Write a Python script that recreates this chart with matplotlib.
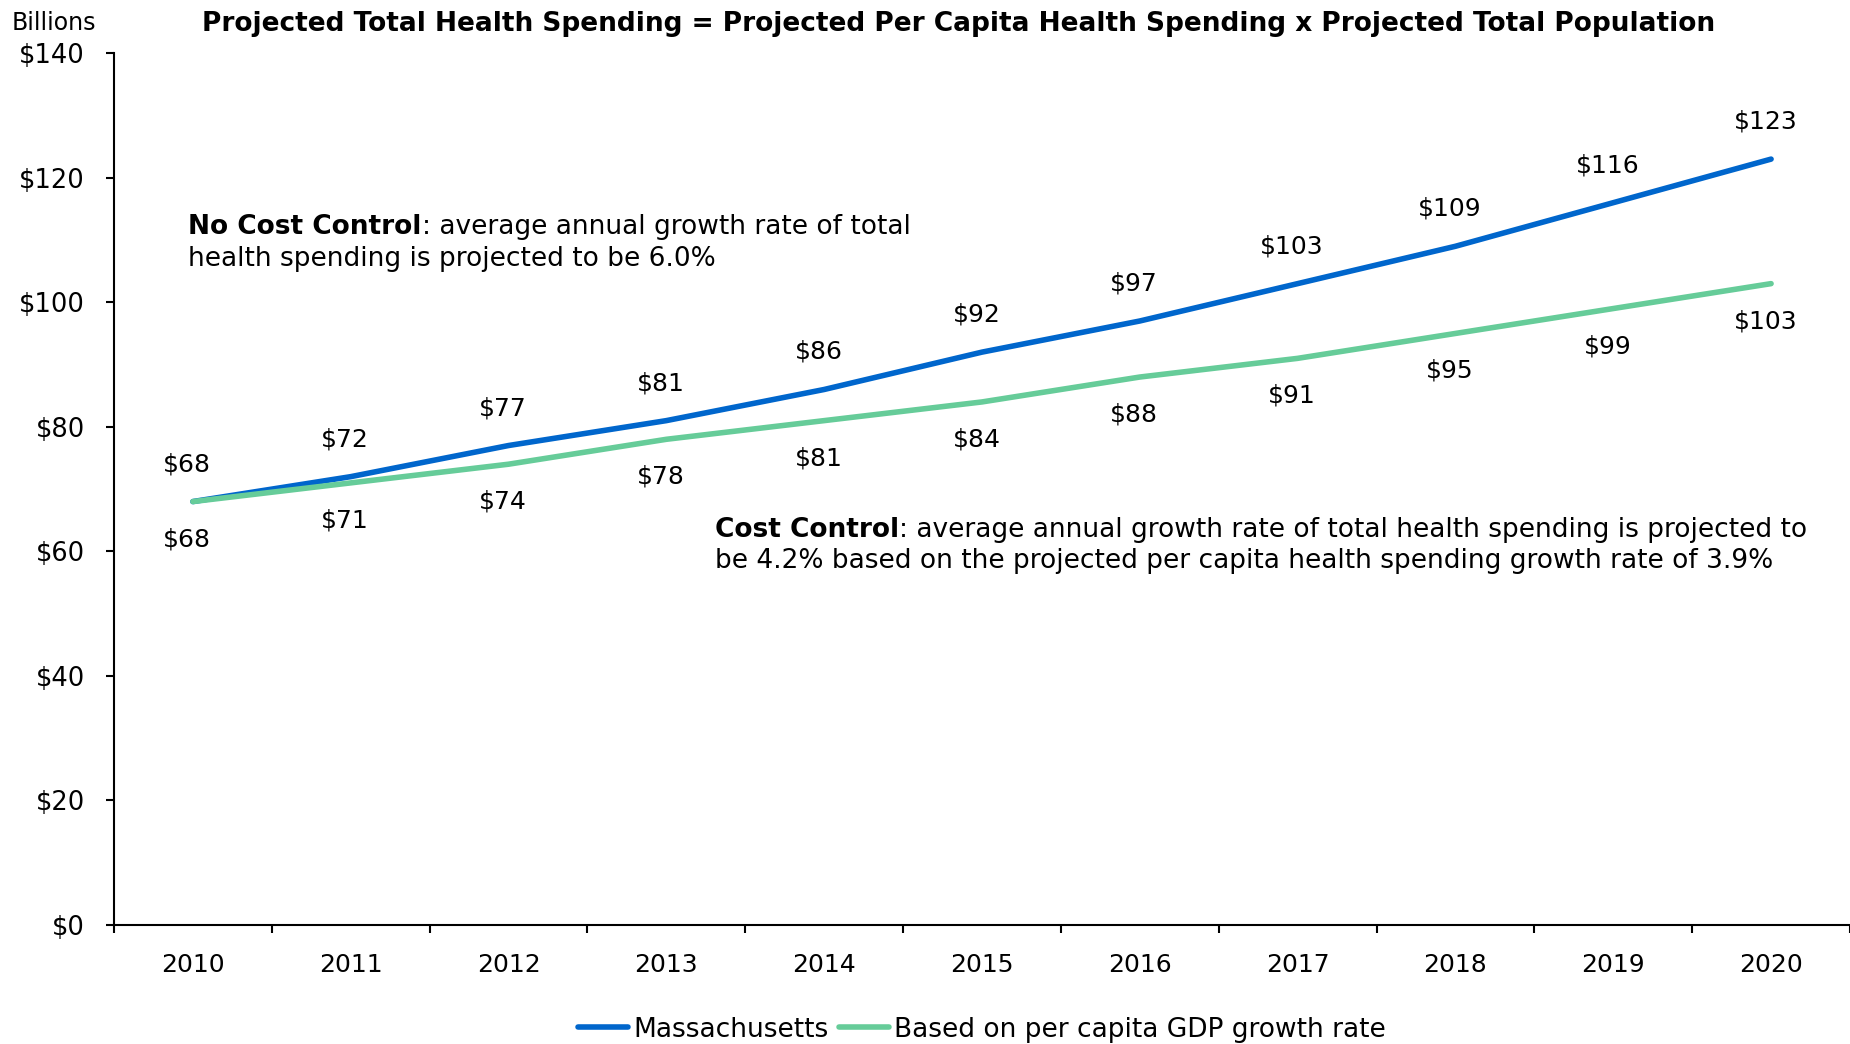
import numpy as np
import matplotlib
matplotlib.use("Agg")
import matplotlib.pyplot as plt

years = ["2010", "2011", "2012", "2013", "2014", "2015", "2016", "2017", "2018", "2019", "2020"]
massachusetts = [68, 72, 77, 81, 86, 92, 97, 103, 109, 116, 123]
gdp_based = [68, 71, 74, 78, 81, 84, 88, 91, 95, 99, 103]

blue = "#0066CC"
green = "#66CC99"

plt.rcParams["font.family"] = ["DejaVu Sans"]

fig = plt.figure(figsize=(18.5, 10.44), dpi=100)
ax = fig.add_axes([0.0616, 0.114, 0.9384, 0.835])

x = np.arange(len(years))
ax.plot(x, massachusetts, color=blue, lw=4, solid_capstyle="round", label="Massachusetts")
ax.plot(x, gdp_based, color=green, lw=4, solid_capstyle="round", label="Based on per capita GDP growth rate")

for xi, v in zip(x, massachusetts):
    ax.annotate(f"${v}", (xi, v), xytext=(-4, 27), textcoords="offset points",
                ha="center", va="center", fontsize=18)
for xi, v in zip(x, gdp_based):
    ax.annotate(f"${v}", (xi, v), xytext=(-4, -27), textcoords="offset points",
                ha="center", va="center", fontsize=18)

ax.set_xlim(-0.5, len(years) - 0.5)
ax.set_ylim(0, 140)
ax.set_yticks(np.arange(0, 141, 20))
ax.set_yticklabels([f"${t}" for t in range(0, 141, 20)], fontsize=18.5)
ax.set_xticks(x)
ax.set_xticklabels(years, fontsize=18)
ax.set_xticks(np.arange(-0.5, len(years), 1), minor=True)
ax.tick_params(axis="x", which="major", length=0, pad=20)
ax.tick_params(axis="x", which="minor", length=6, width=1.5, direction="out")
ax.tick_params(axis="y", length=6, width=1.5, direction="out", pad=15)
for s in ["top", "right"]:
    ax.spines[s].set_visible(False)
ax.spines["left"].set_linewidth(1.5)
ax.spines["bottom"].set_linewidth(1.5)

# annotations
t1 = ax.text(-0.03, 112.1, "No Cost Control", fontsize=19, fontweight="bold", va="center")
ax.annotate(": average annual growth rate of total", xy=(1, 0), xycoords=t1,
            va="bottom", fontsize=19)
ax.text(-0.03, 107.0, "health spending is projected to be 6.0%", fontsize=19, va="center")

t2 = ax.text(3.31, 63.5, "Cost Control", fontsize=19, fontweight="bold", va="center")
ax.annotate(": average annual growth rate of total health spending is projected to",
            xy=(1, 0), xycoords=t2, va="bottom", fontsize=19)
ax.text(3.31, 58.4, "be 4.2% based on the projected per capita health spending growth rate of 3.9%",
        fontsize=19, va="center")

fig.text(0.0065, 0.978, "Billions", fontsize=17, va="center")
fig.text(0.518, 0.977, "Projected Total Health Spending = Projected Per Capita Health Spending x Projected Total Population",
         fontsize=19, fontweight="bold", ha="center", va="center")

ax.legend(loc="center", bbox_to_anchor=(0.5, -0.12), ncol=2, frameon=False, fontsize=19,
          handlelength=1.9, handletextpad=0.2, columnspacing=0.4)

fig.savefig("out.png", dpi=100)
